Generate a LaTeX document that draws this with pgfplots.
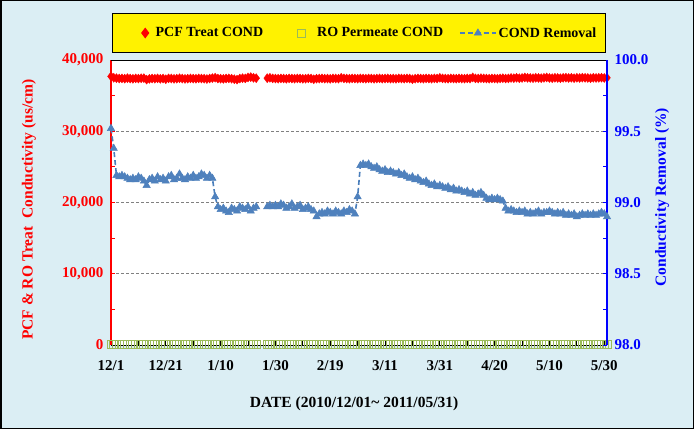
\documentclass[border=0pt]{standalone}
\usepackage{pgfplots}
\pgfplotsset{compat=1.18}
\usepackage{pgfplotstable}
\usepackage{fontspec}
\setmainfont{Liberation Serif}
\definecolor{bgblue}{HTML}{DBEEF4}
\definecolor{lineblue}{HTML}{4A7EBB}
\definecolor{markblue}{HTML}{4F81BD}
\definecolor{rogreen}{HTML}{9BBB59}
\pgfplotsset{mylegline/.style={legend image code/.code={\draw[mark repeat=2,mark phase=2,##1] plot coordinates {(0pt,0pt) (18pt,0pt) (36pt,0pt)};}},
  myfirstleg/.style={legend image code/.code={\path[draw=none,fill=none] (-17pt,0pt) (0pt,0pt); \draw[mark repeat=2,mark phase=2,##1] plot coordinates {(0cm,0cm) (0.3cm,0cm) (0.6cm,0cm)};}}}
\pgfplotstableread{
day pcf ro rem
0 37700 45 99.52
1 37500 40 99.38
2 37450 38 99.19
3 37400 42 99.18
4 37420 40 99.19
5 37380 39 99.18
6 37450 41 99.17
7 37400 40 99.16
8 37360 42 99.17
9 37420 39 99.16
10 37390 40 99.18
11 37440 41 99.17
12 37460 40 99.15
13 37250 38 99.12
14 37350 40 99.16
15 37400 41 99.17
16 37380 40 99.15
17 37420 39 99.18
18 37360 40 99.16
19 37400 41 99.17
20 37300 40 99.15
21 37420 40 99.18
22 37400 39 99.19
23 37360 41 99.16
24 37380 40 99.17
25 37440 40 99.20
26 37400 40 99.17
27 37350 41 99.16
28 37380 40 99.18
29 37410 39 99.17
30 37390 40 99.19
31 37370 40 99.17
32 37420 41 99.18
33 37400 40 99.20
34 37380 40 99.19
35 37330 39 99.17
36 37400 40 99.19
37 37460 41 99.17
38 37520 40 99.04
39 37400 40 98.97
40 37380 39 98.95
41 37350 40 98.96
42 37400 41 98.94
43 37420 40 98.93
44 37380 40 98.96
45 37300 39 98.95
46 37250 40 98.94
47 37400 41 98.97
48 37450 40 98.96
49 37420 40 98.95
50 37550 39 98.97
51 37600 40 98.94
52 37500 41 98.96
53 37450 40 98.97
54 nan nan nan
55 nan nan nan
56 nan nan nan
57 37450 40 98.97
58 37500 41 98.98
59 37420 40 98.97
60 37400 39 98.98
61 37380 40 98.97
62 37420 41 98.99
63 37400 40 98.98
64 37360 40 98.96
65 37420 39 98.97
66 37400 40 98.99
67 37380 41 98.96
68 37420 40 98.97
69 37400 40 98.98
70 37360 39 98.95
71 37380 40 98.96
72 37420 41 98.97
73 37400 40 98.95
74 37300 40 98.94
75 37380 39 98.90
76 37400 40 98.92
77 37420 41 98.93
78 37380 40 98.92
79 37400 40 98.94
80 37360 39 98.93
81 37420 40 98.92
82 37400 41 98.94
83 37380 40 98.93
84 37500 40 98.92
85 37420 45 98.94
86 37400 46 98.93
87 37380 45 98.95
88 37420 46 98.94
89 37400 45 98.92
90 37380 46 99.04
91 37420 45 99.26
92 37400 46 99.27
93 37380 45 99.26
94 37420 40 99.27
95 37400 41 99.25
96 37360 40 99.24
97 37400 40 99.25
98 37420 39 99.23
99 37380 40 99.22
100 37400 41 99.23
101 37420 40 99.21
102 37380 40 99.22
103 37400 39 99.21
104 37360 40 99.20
105 37420 41 99.21
106 37400 40 99.19
107 37380 40 99.20
108 37420 39 99.18
109 37400 40 99.17
110 37300 41 99.18
111 37380 40 99.16
112 37420 40 99.17
113 37400 39 99.15
114 37380 40 99.14
115 37420 41 99.15
116 37400 40 99.13
117 37380 40 99.12
118 37420 39 99.13
119 37400 40 99.11
120 37500 41 99.12
121 37420 40 99.11
122 37400 40 99.10
123 37380 39 99.11
124 37420 40 99.09
125 37400 41 99.10
126 37380 40 99.08
127 37420 40 99.09
128 37400 39 99.08
129 37380 40 99.07
130 37420 41 99.08
131 37400 40 99.06
132 37550 40 99.07
133 37420 39 99.05
134 37400 40 99.06
135 37450 41 99.07
136 37420 40 99.05
137 37400 40 99.03
138 37380 39 99.02
139 37420 40 99.03
140 37400 41 99.02
141 37380 40 99.03
142 37420 40 99.02
143 37450 39 99.01
144 37400 40 98.96
145 37420 41 98.94
146 37480 40 98.95
147 37450 40 98.94
148 37500 39 98.93
149 37450 40 98.94
150 37480 41 98.93
151 37550 40 98.94
152 37500 40 98.92
153 37480 39 98.93
154 37450 40 98.92
155 37500 41 98.93
156 37480 40 98.94
157 37450 40 98.92
158 37500 39 98.93
159 37550 40 98.93
160 37480 41 98.94
161 37450 40 98.93
162 37500 40 98.92
163 37480 39 98.93
164 37450 40 98.92
165 37500 41 98.93
166 37520 40 98.91
167 37480 40 98.92
168 37500 39 98.91
169 37450 40 98.92
170 37500 41 98.90
171 37480 40 98.91
172 37520 40 98.92
173 37500 39 98.91
174 37480 40 98.92
175 37450 41 98.91
176 37500 40 98.92
177 37480 40 98.91
178 37500 39 98.92
179 37520 40 98.93
180 37480 41 98.92
181 37500 40 98.90
}\data
\begin{document}
\begin{tikzpicture}[x=1pt,y=1pt]
\fill[bgblue] (0,0) rectangle (694,429);
\draw[black, line width=1.5pt] (0.75,0.75) rectangle (693.25,428.25);
\begin{axis}[
  at={(111pt,84pt)}, anchor=south west,
  width=496pt, height=285pt, scale only axis,
  xmin=0, xmax=181, ymin=0, ymax=40000,
  clip=false,
  axis background/.style={fill=white},
  axis x line*=bottom, axis y line*=left,
  x axis line style={black, -, line width=1pt},
  y axis line style={red, -, line width=1.2pt},
  tick align=inside,
  major tick length=4pt, minor tick length=4pt,
  xtick={0,10,...,180},
  xticklabels={12/1,,12/21,,1/10,,1/30,,2/19,,3/11,,3/31,,4/20,,5/10,,5/30},
  x tick style={black, line width=1pt},
  ytick={0,10000,20000,30000,40000},
  minor y tick num=1,
  y tick style={red, line width=0.8pt},
  scaled y ticks=false,
  ymajorgrids,
  major grid style={gray, dash pattern=on 3pt off 2pt, line width=0.8pt},
  /pgf/number format/assume math mode=true,
  tick label style={font=\fontsize{15}{18}\selectfont\bfseries},
  yticklabel style={red, xshift=-4pt, /pgf/number format/.cd, fixed, 1000 sep={,}},
  xticklabel style={yshift=-12pt},
  xlabel={DATE (2010/12/01\textasciitilde{} 2011/05/31)},
  xlabel style={font=\fontsize{15.5}{18}\selectfont\bfseries, at={(axis description cs:0.49,-0.207)}, anchor=center},
  ylabel={PCF \& RO Treat\ \ Conductivity (us/cm)},
  ylabel style={font=\fontsize{15.5}{18}\selectfont\bfseries, red, at={(axis description cs:-0.1653,0.475)}, anchor=center},
]
\addplot[only marks, mark=diamond*, mark size=4.5pt, color=red] table[x=day,y=pcf]{\data};
\addplot[only marks, mark=square, mark size=4pt, color=rogreen, mark options={line width=0.9pt}] table[x=day,y=ro]{\data};
\end{axis}
\begin{axis}[
  at={(111pt,84pt)}, anchor=south west,
  width=496pt, height=285pt, scale only axis,
  xmin=0, xmax=181, ymin=98, ymax=100,
  clip=false,
  axis x line*=top, axis y line*=right,
  x axis line style={black, -, line width=1pt},
  y axis line style={blue, -, line width=1.2pt},
  xtick=\empty,
  tick align=inside,
  major tick length=4pt, minor tick length=4pt,
  ytick={98,98.5,99,99.5,100},
  minor y tick num=1,
  y tick style={blue, line width=0.8pt},
  /pgf/number format/assume math mode=true,
  tick label style={font=\fontsize{15}{18}\selectfont\bfseries},
  yticklabel style={blue, xshift=4pt, /pgf/number format/.cd, fixed, fixed zerofill, precision=1},
  ylabel={Conductivity Removal (\%)},
  ylabel style={font=\fontsize{15.5}{18}\selectfont\bfseries, blue, at={(axis description cs:1.111,0.519)}, anchor=center, rotate=0},
  legend columns=3,
  legend style={at={(0.5,1.0947)}, anchor=center, fill=yellow, draw=black, line width=1.2pt,
    font=\fontsize{14}{16}\selectfont\bfseries, inner xsep=7pt, inner ysep=12pt,
    /tikz/column 1/.style={column sep=5pt},
    /tikz/column 2/.style={column sep=32pt},
    /tikz/column 3/.style={column sep=10pt},
    /tikz/column 4/.style={column sep=14pt}},
]
\addlegendimage{only marks, mark=diamond*, mark size=4.5pt, red, myfirstleg}
\addlegendentry{PCF Treat COND}
\addlegendimage{only marks, mark=square, mark size=4pt, rogreen, mark options={line width=0.8pt}}
\addlegendentry{RO Permeate COND}
\addplot[lineblue, line width=1.6pt, dash pattern=on 5pt off 3pt, mark=triangle*, mark size=4.2pt,
  mark options={solid, fill=markblue, draw=markblue, line width=0.5pt}, unbounded coords=jump,
  mylegline]
  table[x=day,y=rem]{\data};
\addlegendentry{COND Removal}
\end{axis}
\end{tikzpicture}
\end{document}
